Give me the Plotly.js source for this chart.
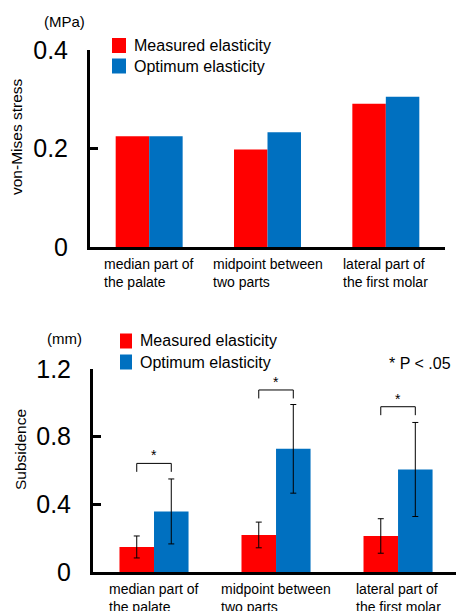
<!DOCTYPE html>
<html>
<head>
<meta charset="utf-8">
<script src="https://cdn.plot.ly/plotly-3.0.1.min.js"></script>
<style>html,body{margin:0;padding:0;background:#fff;}#chart{width:456px;height:611px;}</style>
</head>
<body>
<div id="chart"></div>
<script>
// ---- data ----
const categories = ["median part of<br>the palate", "midpoint between<br>two parts", "lateral part of<br>the first molar"];
const seriesNames = ["Measured elasticity", "Optimum elasticity"];
const stressMeasured = [0.225, 0.198, 0.291];
const stressOptimum = [0.225, 0.233, 0.305];
const subsMeasured = [0.148, 0.219, 0.213];
const subsMeasuredErr = [0.065, 0.076, 0.102];
const subsOptimum = [0.358, 0.728, 0.606];
const subsOptimumErr = [0.192, 0.262, 0.278];
const sigLevels = [0.642, 1.076, 0.977];
const sigLabel = "*";
const stressTicks = [0, 0.2, 0.4];
const stressTickText = ["0", "0.2", "0.4"];
const subsTicks = [0, 0.4, 0.8, 1.2];
const subsTickText = ["0", "0.4", "0.8", "1.2"];

const RED = "#FF0000", BLUE = "#0070C0";
const COLORS = [RED, BLUE];
const W = 456, H = 611;
const FONT = "Arial, Liberation Sans, sans-serif";
const idx = categories.map((c, i) => i);

const traces = [
  {type: "bar", x: idx, y: stressMeasured, name: seriesNames[0], marker: {color: RED}, xaxis: "x", yaxis: "y"},
  {type: "bar", x: idx, y: stressOptimum, name: seriesNames[1], marker: {color: BLUE}, xaxis: "x", yaxis: "y"},
  {type: "bar", x: idx, y: subsMeasured, name: seriesNames[0], marker: {color: RED}, xaxis: "x2", yaxis: "y2",
   error_y: {type: "data", array: subsMeasuredErr, visible: true, color: "#000", thickness: 1, width: 3}},
  {type: "bar", x: idx, y: subsOptimum, name: seriesNames[1], marker: {color: BLUE}, xaxis: "x2", yaxis: "y2",
   error_y: {type: "data", array: subsOptimumErr, visible: true, color: "#000", thickness: 1, width: 3}}
];

const py = p => (H - p) / H;   // pixel y -> paper
const px = p => p / W;

const bargap = 0.434;
const half = (1 - bargap) / 4; // centre offset of each bar in a group

const shapes = [];
const annotations = [];
function txt(x, y, text, size, extra) {
  return Object.assign({xref: "paper", yref: "paper", x: px(x), y: py(y), xanchor: "center", yanchor: "middle",
    text: text, showarrow: false, font: {family: FONT, size: size, color: "#000"}}, extra || {});
}
sigLevels.forEach((lv, i) => {
  const x0 = i - half, x1 = i + half;
  const leg = 0.05;
  shapes.push({type: "path", xref: "x2", yref: "y2",
    path: `M${x0},${lv - leg} L${x0},${lv} L${x1},${lv} L${x1},${lv - leg}`,
    line: {color: "#000", width: 1}});
  annotations.push({xref: "x2", yref: "y2", x: i, y: lv, xanchor: "center", yanchor: "bottom", yshift: -2, text: sigLabel,
    showarrow: false, font: {family: FONT, size: 14, color: "#000"}});
});
categories.forEach((c, i) => {
  annotations.push({xref: "x", yref: "paper", x: i, y: py(254), yanchor: "top", xanchor: "center", align: "left",
    text: c, showarrow: false, font: {family: FONT, size: 14, color: "#000"}});
  annotations.push({xref: "x2", yref: "paper", x: i, y: py(579), yanchor: "top", xanchor: "center", align: "left",
    text: c, showarrow: false, font: {family: FONT, size: 14, color: "#000"}});
});
annotations.push(
  txt(64, 22, "(MPa)", 15),
  txt(64, 338, "(mm)", 15),
  txt(17, 137, "von-Mises stress", 15.5, {textangle: -90}),
  txt(20, 450, "Subsidence", 15.5, {textangle: -90}),
  txt(453, 363, "* P < .05", 16, {xanchor: "right"})
);

// legends (one per panel)
const legendSpecs = [
  {sx: 112, sw: 14, rows: [45.5, 66], tx: 132},
  {sx: 120, sw: 12, rows: [341, 362], tx: 138}
];
legendSpecs.forEach(L => {
  seriesNames.forEach((nm, k) => {
    const cy = L.rows[k];
    shapes.push({type: "rect", xref: "paper", yref: "paper", x0: px(L.sx), x1: px(L.sx + L.sw),
      y0: py(cy + 7.5), y1: py(cy - 7.5), fillcolor: COLORS[k], line: {width: 0}});
    annotations.push(txt(L.tx, cy, nm, 16, {xanchor: "left"}));
  });
});

const yCommon = {showgrid: false, zeroline: false, showline: true, linecolor: "#000", linewidth: 3,
  ticks: "inside", ticklen: 8, tickwidth: 3, tickcolor: "#000", ticklabelstandoff: 14,
  tickfont: {family: FONT, size: 25, color: "#000"}, fixedrange: true};
const xCommon = {showgrid: false, zeroline: false, showline: true, linecolor: "#000", linewidth: 3,
  showticklabels: false, ticks: "", fixedrange: true};

const layout = {
  width: W, height: H, margin: {l: 0, r: 0, t: 0, b: 0},
  paper_bgcolor: "#fff", plot_bgcolor: "#fff",
  barmode: "group", bargap: bargap, bargroupgap: 0, showlegend: false,
  font: {family: FONT, color: "#000"},
  xaxis: Object.assign({}, xCommon, {domain: [px(90), px(445)], range: [-0.5, 2.5], anchor: "y"}),
  yaxis: Object.assign({}, yCommon, {domain: [py(247), py(50)], range: [0, 0.4], tickvals: stressTicks, ticktext: stressTickText, anchor: "x"}),
  xaxis2: Object.assign({}, xCommon, {domain: [px(93), 1], range: [-0.5, 2.475], anchor: "y2"}),
  yaxis2: Object.assign({}, yCommon, {domain: [py(572), py(369)], range: [0, 1.2], tickvals: subsTicks, ticktext: subsTickText, anchor: "x2"}),
  shapes: shapes, annotations: annotations
};

Plotly.newPlot("chart", traces, layout, {displayModeBar: false, staticPlot: true});
</script>
</body>
</html>
